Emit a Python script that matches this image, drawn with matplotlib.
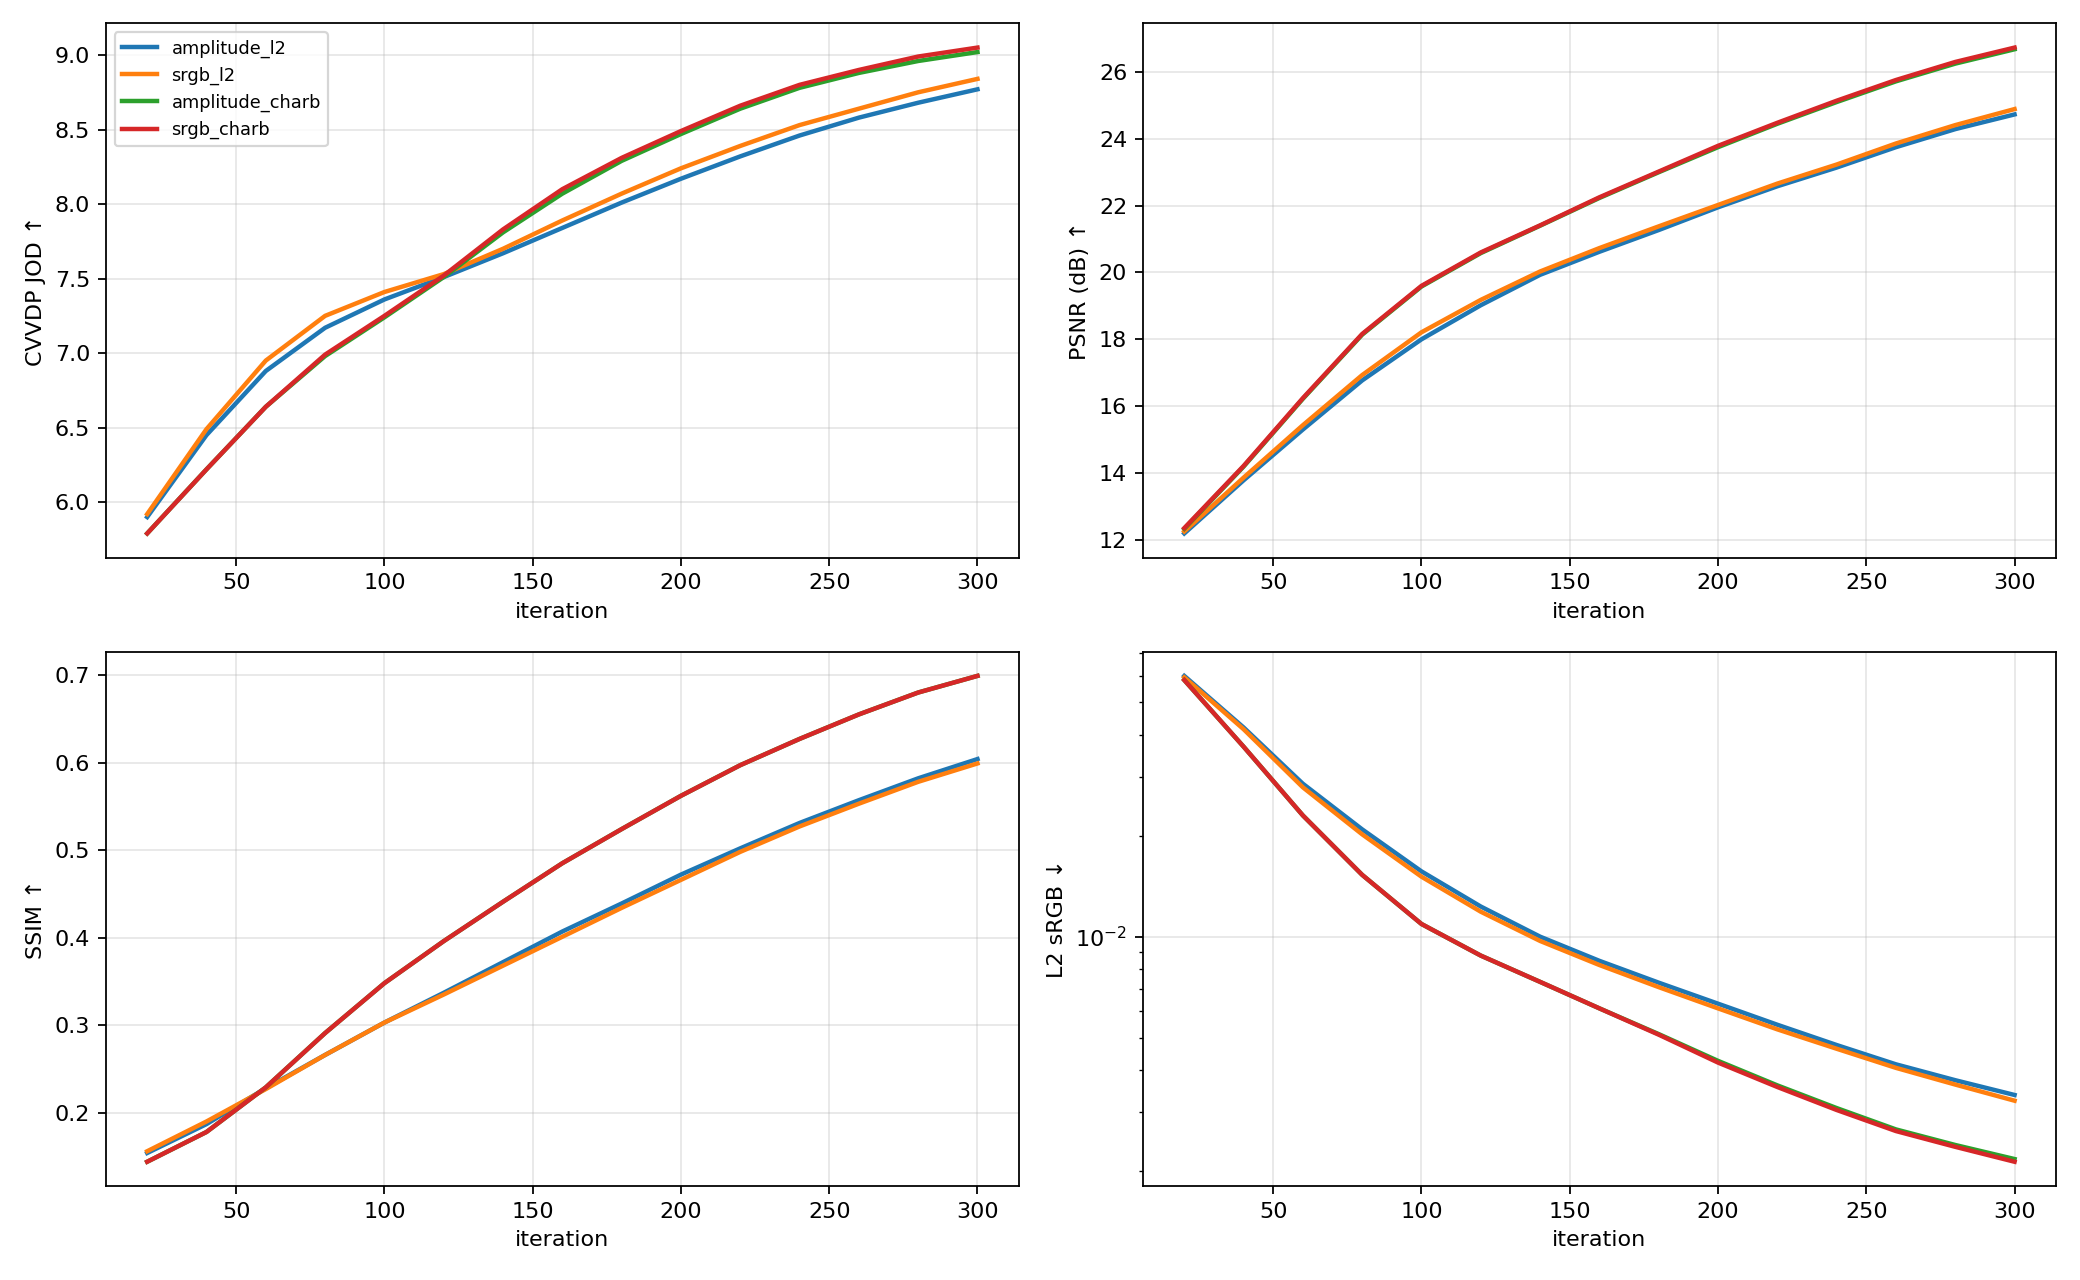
import matplotlib
matplotlib.use("Agg")
import matplotlib.pyplot as plt

iterations = [20, 40, 60, 80, 100, 120, 140, 160, 180, 200, 220, 240, 260, 280, 300]
series_names = ["amplitude_l2", "srgb_l2", "amplitude_charb", "srgb_charb"]
colors = ["#1f77b4", "#ff7f0e", "#2ca02c", "#d62728"]

cvvdp_amplitude_l2 = [5.90, 6.45, 6.88, 7.17, 7.36, 7.51, 7.67, 7.84, 8.01, 8.17, 8.32, 8.46, 8.58, 8.68, 8.77]
cvvdp_srgb_l2 = [5.92, 6.49, 6.95, 7.25, 7.41, 7.53, 7.70, 7.89, 8.07, 8.24, 8.39, 8.53, 8.64, 8.75, 8.84]
cvvdp_amplitude_charb = [5.79, 6.22, 6.64, 6.98, 7.24, 7.51, 7.81, 8.07, 8.29, 8.47, 8.64, 8.78, 8.88, 8.96, 9.02]
cvvdp_srgb_charb = [5.79, 6.22, 6.64, 6.99, 7.25, 7.52, 7.83, 8.10, 8.31, 8.49, 8.66, 8.80, 8.90, 8.99, 9.05]

psnr_amplitude_l2 = [12.19, 13.78, 15.30, 16.77, 18.00, 19.02, 19.93, 20.62, 21.27, 21.95, 22.58, 23.14, 23.75, 24.29, 24.73]
psnr_srgb_l2 = [12.25, 13.86, 15.43, 16.93, 18.21, 19.18, 20.03, 20.73, 21.38, 22.02, 22.66, 23.23, 23.86, 24.41, 24.89]
psnr_amplitude_charb = [12.33, 14.19, 16.22, 18.14, 19.58, 20.58, 21.40, 22.23, 23.00, 23.75, 24.45, 25.10, 25.72, 26.25, 26.68]
psnr_srgb_charb = [12.35, 14.21, 16.24, 18.16, 19.60, 20.60, 21.41, 22.25, 23.02, 23.79, 24.48, 25.14, 25.76, 26.30, 26.73]

ssim_amplitude_l2 = [0.154, 0.187, 0.228, 0.266, 0.303, 0.337, 0.372, 0.407, 0.439, 0.472, 0.502, 0.531, 0.557, 0.582, 0.604]
ssim_srgb_l2 = [0.156, 0.190, 0.227, 0.266, 0.303, 0.335, 0.368, 0.401, 0.434, 0.466, 0.498, 0.527, 0.553, 0.578, 0.599]
ssim_amplitude_charb = [0.144, 0.178, 0.229, 0.291, 0.348, 0.396, 0.441, 0.485, 0.524, 0.562, 0.597, 0.627, 0.655, 0.680, 0.699]
ssim_srgb_charb = [0.144, 0.178, 0.229, 0.291, 0.348, 0.396, 0.441, 0.485, 0.524, 0.562, 0.597, 0.627, 0.655, 0.680, 0.699]

l2_amplitude_l2 = [0.0600, 0.0421, 0.0286, 0.0209, 0.01566, 0.0123, 0.0100, 0.00847, 0.00729, 0.00631, 0.00546, 0.00475, 0.00416, 0.00373, 0.00337]
l2_srgb_l2 = [0.0594, 0.0416, 0.0279, 0.0202, 0.0151, 0.01187, 0.00971, 0.00823, 0.00707, 0.00611, 0.00529, 0.00463, 0.00406, 0.00362, 0.00324]
l2_amplitude_charb = [0.0583, 0.0369, 0.0230, 0.01529, 0.01091, 0.00878, 0.00733, 0.00611, 0.00512, 0.00426, 0.00360, 0.00308, 0.00266, 0.00239, 0.00217]
l2_srgb_charb = [0.0583, 0.0369, 0.0230, 0.01529, 0.01091, 0.00878, 0.00733, 0.00611, 0.00510, 0.00421, 0.00356, 0.00304, 0.00263, 0.00236, 0.00213]

panels = [
    ("CVVDP JOD ↑", [cvvdp_amplitude_l2, cvvdp_srgb_l2, cvvdp_amplitude_charb, cvvdp_srgb_charb], False),
    ("PSNR (dB) ↑", [psnr_amplitude_l2, psnr_srgb_l2, psnr_amplitude_charb, psnr_srgb_charb], False),
    ("SSIM ↑", [ssim_amplitude_l2, ssim_srgb_l2, ssim_amplitude_charb, ssim_srgb_charb], False),
    ("L2 sRGB ↓", [l2_amplitude_l2, l2_srgb_l2, l2_amplitude_charb, l2_srgb_charb], True),
]

fig, axes = plt.subplots(2, 2, figsize=(13, 8), dpi=160)
for ax, (ylabel, data, logy) in zip(axes.flat, panels):
    for name, vals, c in zip(series_names, data, colors):
        ax.plot(iterations, vals, color=c, lw=2, label=name)
    if logy:
        ax.set_yscale("log")
    ax.set_xlabel("iteration")
    ax.set_ylabel(ylabel)
    ax.grid(True, alpha=0.3)

axes[0, 0].legend(loc="upper left", fontsize=8)
fig.subplots_adjust(left=0.0508, right=0.9885, top=0.9818, bottom=0.0734,
                    wspace=0.1355, hspace=0.1756)
fig.savefig("out.png", dpi=160)
